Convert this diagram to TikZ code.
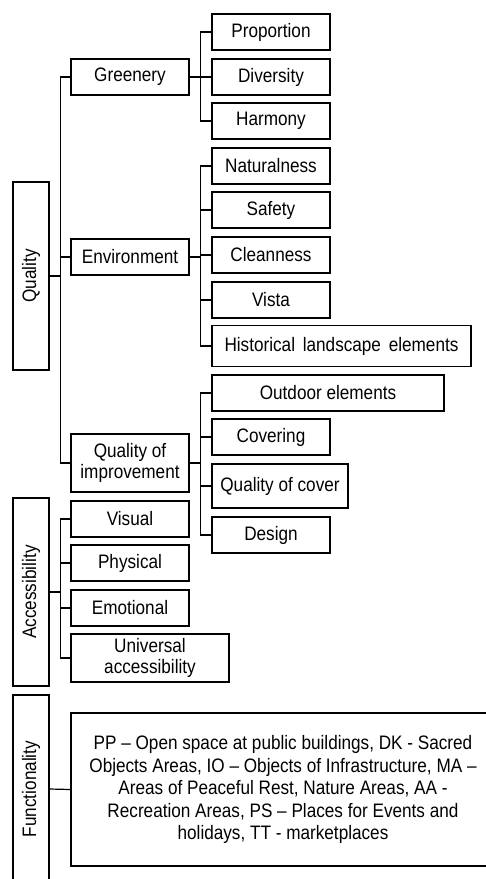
\documentclass[tikz,border=0pt]{standalone}
\usepackage{fontspec}
\setmainfont{Liberation Sans}[FakeStretch=0.88]
\tikzset{
    box/.style={draw, line width=1.2pt, align=center, inner sep=2pt, minimum height=36pt, font=\fontsize{19.5}{21.5}\selectfont},
    leaf/.style={box, minimum width=118pt},
    head/.style={box, minimum width=36pt, minimum height=188pt},
    link/.style={line width=1.2pt},
}
\begin{document}
\begin{tikzpicture}[x=1pt,y=-1pt]
    \useasboundingbox (0,0) rectangle (486,879);

    % Main criteria
    \node[head] (quality) at (31,276) {\rotatebox{90}{Quality}};
    \node[head] (access) at (31,592) {\rotatebox{90}{Accessibility}};
    \node[head] (func) at (31,789) {\rotatebox{90}{Functionality}};

    % Second level
    \foreach \name/\y/\txt in {green/77/Greenery, env/257/Environment, visual/519/Visual, phys/563/Physical, emo/608/Emotional}
        \node[leaf] (\name) at (130,\y) {\txt};
    \node[leaf, minimum height=58pt] (qimp) at (130,463) {Quality of\\improvement};
    \node[box, minimum width=158pt, minimum height=48pt] (univ) at (150,658) {Universal\\accessibility};

    % Third level
    \foreach \name/\y/\txt in {prop/32/Proportion, div/77/Diversity, harm/121/Harmony, nat/166/Naturalness, safe/210/Safety, clean/255/Cleanness, vista/300/Vista, cover/437/Covering, design/535/Design}
        \node[leaf] (\name) at (271,\y) {\txt};
    \node[box, minimum width=259pt, minimum height=41pt] (hist) at (341.5,346) {Historical\hspace{3pt} landscape\hspace{3pt} elements};
    \node[box, minimum width=232pt] (outdoor) at (328,393) {Outdoor elements};
    \node[box, minimum width=136pt, minimum height=44pt] (qcover) at (280,486) {Quality of cover};

    % Functionality types
    \node[box, minimum width=424pt, minimum height=153pt, font=\fontsize{19.5}{22.5}\selectfont] (types) at (283,789.5)
        {PP – Open space at public buildings, DK - Sacred\\Objects Areas, IO – Objects of Infrastructure, MA –\\Areas of Peaceful Rest, Nature Areas, AA -\\Recreation Areas, PS – Places for Events and\\holidays, TT - marketplaces};

    % Connectors
    \foreach \kid in {green,env,qimp}
        \draw[link] (quality.east) -- ++(11,0) |- (\kid.west);
    \foreach \kid in {visual,phys,emo,univ}
        \draw[link] (access.east) -- ++(11,0) |- (\kid.west);
    \draw[link] (func.east) -- (types.west);
    \foreach \kid in {prop,div,harm}
        \draw[link] (green.east) -- ++(11,0) |- (\kid.west);
    \foreach \kid in {nat,safe,clean,vista,hist}
        \draw[link] (env.east) -- ++(11,0) |- (\kid.west);
    \foreach \kid in {outdoor,cover,qcover,design}
        \draw[link] (qimp.east) -- ++(11,0) |- (\kid.west);
\end{tikzpicture}
\end{document}
